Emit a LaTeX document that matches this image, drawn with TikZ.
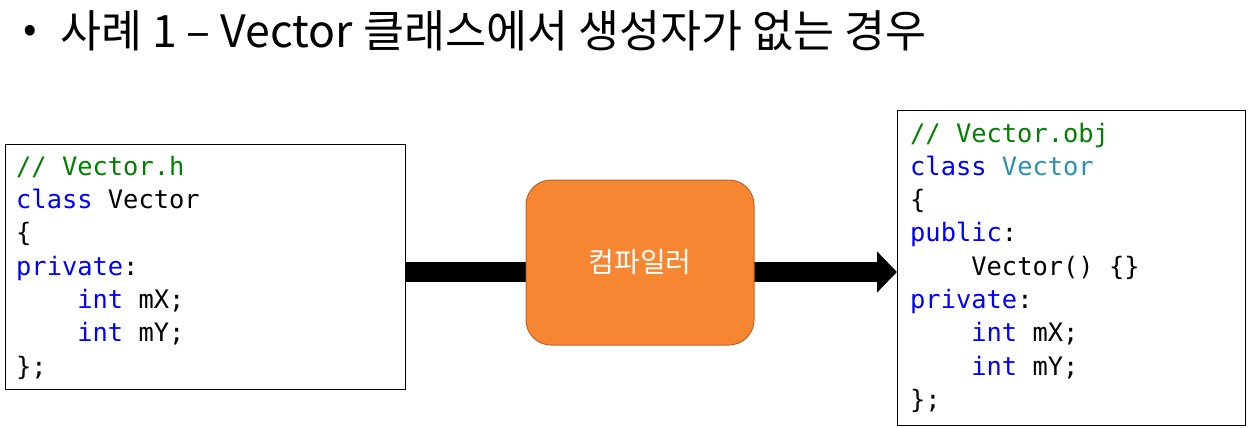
\documentclass[tikz,border=0pt]{standalone}
\usepackage{fontspec}
\setmainfont{Noto Sans CJK KR}
\newfontfamily\codefont{DejaVu Sans Mono}
\usetikzlibrary{arrows.meta}
\definecolor{cmt}{RGB}{0,128,0}
\definecolor{kw}{RGB}{0,0,255}
\definecolor{typ}{RGB}{43,145,175}
\definecolor{orfill}{RGB}{247,134,50}
\definecolor{ordraw}{RGB}{190,100,40}
\begin{document}
\begin{tikzpicture}[x=1pt,y=-1pt,
  codebox/.style={draw=black, line width=1.2pt, fill=white, inner sep=0pt, anchor=north west},
  codeline/.style={anchor=base west, inner sep=0pt, font=\codefont\fontsize{25.4}{30}\selectfont},
  compiler/.style={draw=ordraw, line width=1pt, fill=orfill, rounded corners=25pt, text=white,
    font=\fontsize{28}{32}\selectfont, inner sep=0pt},
  bigarrow/.style={line width=20pt, -{Triangle[length=20pt,width=40pt]}}]
\useasboundingbox (0,0) rectangle (1251,428);
% title
\node[anchor=center, inner sep=0pt, font=\fontsize{40}{48}\selectfont] (bullet) at (30,34) {•};
\node[anchor=west, inner sep=0pt, font=\fontsize{44.6}{52}\selectfont] (title) at (60,31) {사례 1 – Vector 클래스에서 생성자가 없는 경우};
% boxes
\node[codebox, minimum width=400pt, minimum height=245pt] (src) at (5,144) {};
\node[codebox, minimum width=348pt, minimum height=315pt] (obj) at (897,110) {};
\coordinate (ay) at (0,272);
\draw[bigarrow] (src.east |- ay) -- (obj.west |- ay);
\node[compiler, minimum width=228pt, minimum height=165pt] (cc) at (640,262.5) {컴파일러};
% source code
\node[codeline] (s1) at (16,175) {\textcolor{cmt}{// Vector.h}};
\node[codeline] (s2) at (16,208.3) {\textcolor{kw}{class} Vector};
\node[codeline] (s3) at (16,241.7) {\{};
\node[codeline] (s4) at (16,275) {\textcolor{kw}{private}:};
\node[codeline] (s5) at (77.2,308.3) {\textcolor{kw}{int} mX;};
\node[codeline] (s6) at (77.2,341.7) {\textcolor{kw}{int} mY;};
\node[codeline] (s7) at (16,375) {\};};
% object code
\node[codeline] (o1) at (910,142) {\textcolor{cmt}{// Vector.obj}};
\node[codeline] (o2) at (910,175.3) {\textcolor{kw}{class} \textcolor{typ}{Vector}};
\node[codeline] (o3) at (910,208.6) {\{};
\node[codeline] (o4) at (910,241.9) {\textcolor{kw}{public}:};
\node[codeline] (o5) at (971.2,275.2) {Vector() \{\}};
\node[codeline] (o6) at (910,308.5) {\textcolor{kw}{private}:};
\node[codeline] (o7) at (971.2,341.8) {\textcolor{kw}{int} mX;};
\node[codeline] (o8) at (971.2,375.1) {\textcolor{kw}{int} mY;};
\node[codeline] (o9) at (910,408.4) {\};};
\end{tikzpicture}
\end{document}
